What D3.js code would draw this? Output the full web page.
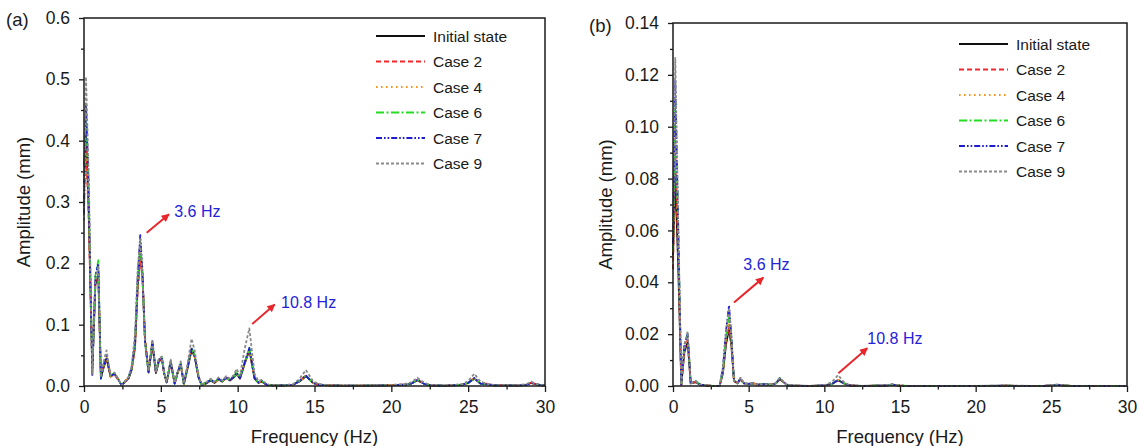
<!DOCTYPE html>
<html>
<head>
<meta charset="utf-8">
<script src="https://cdn.jsdelivr.net/npm/d3@7/dist/d3.min.js"></script>
<style>
body { margin: 0; background: #ffffff; }
svg text { font-family: 'Liberation Sans', Arial, sans-serif; fill: #1a1a1a; }
</style>
</head>
<body>
<div class="spectrum-wrapper"></div>
<script>
// legend names, one per series
const seriesNames = ['Initial state', 'Case 2', 'Case 4', 'Case 6', 'Case 7', 'Case 9'];

const xTicks = [0, 5, 10, 15, 20, 25, 30];
const yTicksA = [0, 0.1, 0.2, 0.3, 0.4, 0.5, 0.6];
const yTicksB = [0, 0.02, 0.04, 0.06, 0.08, 0.10, 0.12, 0.14];

// (a) frequency grid, Hz
const freqA = [
  0, 0.13, 0.3, 0.54, 0.74, 0.93, 1.1, 1.28, 1.47, 1.72,
  1.98, 2.2, 2.45, 2.7, 2.9, 3.1, 3.32, 3.49, 3.66, 3.8,
  3.97, 4.2, 4.45, 4.68, 4.87, 5.07, 5.22, 5.38, 5.64, 5.9,
  6.08, 6.29, 6.5, 6.75, 7.0, 7.2, 7.45, 7.65, 7.95, 8.25,
  8.5, 8.75, 9.0, 9.25, 9.5, 9.75, 9.93, 10.15, 10.45, 10.76,
  11.1, 11.35, 11.56, 11.9, 12.3, 13.0, 13.6, 14.0, 14.44, 14.9,
  15.3, 16.0, 17.5, 19.5, 20.8, 21.3, 21.7, 22.1, 22.6, 23.5,
  24.6, 25.0, 25.4, 25.8, 26.2, 26.7, 27.6, 28.4, 28.8, 29.1,
  29.4, 29.8, 30
];

// (a) amplitudes, mm
const initialA = [
  0.36, 0.41, 0.29, 0.025, 0.165, 0.18, 0.014, 0.03, 0.045, 0.016,
  0.02, 0.012, 0.001, 0.008, 0.012, 0.026, 0.065, 0.16, 0.215, 0.18,
  0.075, 0.022, 0.068, 0.021, 0.04, 0.044, 0.02, 0.006, 0.038, 0.004,
  0.02, 0.036, 0.003, 0.03, 0.058, 0.048, 0.014, 0.002, 0.004, 0.009,
  0.005, 0.011, 0.007, 0.013, 0.009, 0.014, 0.02, 0.012, 0.036, 0.058,
  0.012, 0.005, 0.007, 0.002, 0.001, 0.001, 0.002, 0.007, 0.016, 0.005,
  0.002, 0.001, 0.0005, 0.001, 0.002, 0.004, 0.009, 0.004, 0.001, 0.0005,
  0.002, 0.005, 0.012, 0.004, 0.003, 0.001, 0.001, 0.001, 0.002, 0.005,
  0.003, 0.001, 0.001
];
const case2A = [
  0.33, 0.39, 0.28, 0.03, 0.17, 0.185, 0.015, 0.032, 0.047, 0.015,
  0.019, 0.011, 0.001, 0.007, 0.013, 0.027, 0.062, 0.155, 0.205, 0.185,
  0.08, 0.024, 0.07, 0.022, 0.041, 0.045, 0.019, 0.007, 0.039, 0.005,
  0.021, 0.035, 0.004, 0.031, 0.06, 0.05, 0.015, 0.003, 0.005, 0.01,
  0.006, 0.012, 0.008, 0.014, 0.01, 0.015, 0.021, 0.013, 0.037, 0.06,
  0.013, 0.006, 0.008, 0.002, 0.001, 0.001, 0.002, 0.008, 0.017, 0.005,
  0.002, 0.001, 0.0005, 0.001, 0.002, 0.004, 0.01, 0.004, 0.001, 0.0005,
  0.002, 0.005, 0.013, 0.004, 0.004, 0.001, 0.001, 0.001, 0.002, 0.005,
  0.003, 0.001, 0.001
];
const case4A = [
  0.34, 0.42, 0.3, 0.024, 0.175, 0.19, 0.013, 0.033, 0.048, 0.016,
  0.02, 0.012, 0.001, 0.008, 0.013, 0.028, 0.068, 0.165, 0.23, 0.182,
  0.074, 0.023, 0.071, 0.022, 0.042, 0.045, 0.02, 0.006, 0.04, 0.004,
  0.02, 0.036, 0.003, 0.031, 0.06, 0.049, 0.014, 0.002, 0.004, 0.01,
  0.005, 0.011, 0.007, 0.013, 0.01, 0.015, 0.021, 0.013, 0.037, 0.06,
  0.013, 0.006, 0.008, 0.002, 0.001, 0.001, 0.002, 0.007, 0.016, 0.005,
  0.002, 0.001, 0.0005, 0.001, 0.002, 0.004, 0.009, 0.004, 0.001, 0.0005,
  0.002, 0.005, 0.012, 0.004, 0.003, 0.001, 0.001, 0.001, 0.002, 0.005,
  0.003, 0.001, 0.001
];
const case6A = [
  0.3, 0.45, 0.32, 0.02, 0.18, 0.205, 0.012, 0.035, 0.05, 0.017,
  0.021, 0.012, 0.001, 0.008, 0.014, 0.029, 0.07, 0.17, 0.235, 0.185,
  0.073, 0.023, 0.072, 0.023, 0.043, 0.046, 0.021, 0.006, 0.041, 0.004,
  0.021, 0.037, 0.003, 0.032, 0.062, 0.05, 0.015, 0.002, 0.005, 0.01,
  0.006, 0.012, 0.008, 0.014, 0.01, 0.015, 0.022, 0.013, 0.038, 0.062,
  0.013, 0.006, 0.008, 0.002, 0.001, 0.001, 0.002, 0.008, 0.017, 0.005,
  0.002, 0.001, 0.0005, 0.001, 0.002, 0.004, 0.01, 0.004, 0.001, 0.0005,
  0.002, 0.005, 0.013, 0.004, 0.003, 0.001, 0.001, 0.001, 0.002, 0.005,
  0.003, 0.001, 0.001
];
const case7A = [
  0.28, 0.46, 0.33, 0.018, 0.178, 0.2, 0.012, 0.034, 0.049, 0.016,
  0.02, 0.012, 0.001, 0.008, 0.014, 0.03, 0.072, 0.175, 0.246, 0.19,
  0.072, 0.023, 0.073, 0.022, 0.043, 0.046, 0.02, 0.006, 0.041, 0.004,
  0.021, 0.037, 0.003, 0.032, 0.061, 0.05, 0.015, 0.002, 0.005, 0.01,
  0.006, 0.012, 0.008, 0.014, 0.01, 0.015, 0.022, 0.013, 0.038, 0.062,
  0.013, 0.006, 0.008, 0.002, 0.001, 0.001, 0.002, 0.008, 0.017, 0.005,
  0.002, 0.001, 0.0005, 0.001, 0.002, 0.004, 0.01, 0.004, 0.001, 0.0005,
  0.002, 0.005, 0.013, 0.004, 0.003, 0.001, 0.001, 0.001, 0.002, 0.005,
  0.003, 0.001, 0.001
];
const case9A = [
  0.27, 0.504, 0.35, 0.02, 0.17, 0.195, 0.014, 0.04, 0.058, 0.018,
  0.022, 0.013, 0.001, 0.009, 0.015, 0.032, 0.085, 0.19, 0.24, 0.18,
  0.07, 0.025, 0.075, 0.024, 0.045, 0.048, 0.022, 0.007, 0.043, 0.005,
  0.022, 0.04, 0.004, 0.038, 0.077, 0.058, 0.017, 0.003, 0.006, 0.012,
  0.007, 0.014, 0.009, 0.016, 0.012, 0.018, 0.028, 0.017, 0.06, 0.094,
  0.02, 0.008, 0.01, 0.003, 0.001, 0.001, 0.003, 0.011, 0.026, 0.008,
  0.003, 0.001, 0.0005, 0.001, 0.003, 0.006, 0.0135, 0.006, 0.001, 0.0005,
  0.003, 0.008, 0.02, 0.007, 0.004, 0.001, 0.001, 0.002, 0.003, 0.007,
  0.004, 0.001, 0.001
];

// (b) frequency grid, Hz
const freqB = [
  0, 0.15, 0.35, 0.55, 0.75, 0.97, 1.17, 1.5, 1.8, 2.2,
  2.6, 3.08, 3.3, 3.5, 3.7, 3.85, 4.03, 4.25, 4.46, 4.7,
  5.0, 5.3, 5.6, 6.0, 6.5, 6.8, 7.05, 7.3, 7.6, 8.2,
  9.0, 10.0, 10.5, 10.9, 11.3, 11.7, 12.5, 14.0, 14.5, 15.0,
  17.0, 20.0, 22.0, 24.5, 25.4, 26.3, 28.0, 30.0
];

// (b) amplitudes, mm
const initialB = [
  0.05, 0.081, 0.045, 0.0005, 0.013, 0.017, 0.001, 0.0015, 0.0005, 0.0002,
  0, 0, 0.005, 0.016, 0.022, 0.016, 0.002, 0.001, 0.0025, 0.001,
  0.0008, 0.001, 0.0005, 0.0007, 0.0005, 0.001, 0.0025, 0.0015, 0.0002, 0.0001,
  0, 0.0002, 0.0008, 0.0022, 0.001, 0.0002, 0, 0.0002, 0.0005, 0.0001,
  0, 0, 0.0001, 0, 0.0004, 0, 0, 0
];
const case2B = [
  0.045, 0.09, 0.05, 0.0005, 0.014, 0.018, 0.001, 0.0015, 0.0005, 0.0002,
  0, 0, 0.005, 0.017, 0.023, 0.017, 0.002, 0.001, 0.0025, 0.001,
  0.0008, 0.001, 0.0005, 0.0007, 0.0005, 0.001, 0.0027, 0.0015, 0.0002, 0.0001,
  0, 0.0002, 0.0008, 0.0023, 0.001, 0.0002, 0, 0.0002, 0.0005, 0.0001,
  0, 0, 0.0001, 0, 0.0004, 0, 0, 0
];
const case4B = [
  0.048, 0.1, 0.055, 0.0005, 0.015, 0.019, 0.001, 0.0018, 0.0005, 0.0002,
  0, 0, 0.006, 0.018, 0.025, 0.018, 0.002, 0.001, 0.0028, 0.001,
  0.0008, 0.001, 0.0005, 0.0007, 0.0005, 0.001, 0.0028, 0.0015, 0.0002, 0.0001,
  0, 0.0002, 0.0008, 0.0024, 0.001, 0.0002, 0, 0.0002, 0.0005, 0.0001,
  0, 0, 0.0001, 0, 0.0004, 0, 0, 0
];
const case6B = [
  0.052, 0.11, 0.058, 0.0005, 0.016, 0.02, 0.001, 0.002, 0.0005, 0.0002,
  0, 0, 0.006, 0.019, 0.027, 0.019, 0.002, 0.001, 0.003, 0.001,
  0.0008, 0.001, 0.0005, 0.0007, 0.0005, 0.001, 0.003, 0.0015, 0.0002, 0.0001,
  0, 0.0002, 0.0008, 0.0024, 0.001, 0.0002, 0, 0.0002, 0.0005, 0.0001,
  0, 0, 0.0001, 0, 0.0004, 0, 0, 0
];
const case7B = [
  0.055, 0.118, 0.06, 0.0005, 0.016, 0.02, 0.001, 0.0018, 0.0005, 0.0002,
  0, 0, 0.007, 0.021, 0.031, 0.02, 0.002, 0.001, 0.003, 0.001,
  0.0008, 0.001, 0.0005, 0.0007, 0.0005, 0.001, 0.003, 0.0015, 0.0002, 0.0001,
  0, 0.0002, 0.0008, 0.0023, 0.001, 0.0002, 0, 0.0002, 0.0005, 0.0001,
  0, 0, 0.0001, 0, 0.0004, 0, 0, 0
];
const case9B = [
  0.058, 0.1265, 0.062, 0.0005, 0.016, 0.021, 0.001, 0.0018, 0.0005, 0.0002,
  0, 0, 0.007, 0.021, 0.030, 0.02, 0.002, 0.001, 0.0032, 0.001,
  0.0008, 0.001, 0.0005, 0.0007, 0.0005, 0.0012, 0.0032, 0.0017, 0.0002, 0.0001,
  0, 0.0003, 0.0015, 0.0042, 0.0015, 0.0002, 0, 0.0003, 0.0007, 0.0001,
  0, 0, 0.0002, 0, 0.0006, 0, 0, 0
];

// styles, same order as seriesNames
const lineColors = ['#111111', '#f2262b', '#f7941d', '#22dd22', '#1d1dd0', '#8a8a8a'];
const lineDashes = [null, '5,3', '1.6,3.4', '8,2.5,2,2.5', '6,2,1.6,2,1.6,2', '3,2'];

const width = 1140;
const height = 446;

const svg = d3.select('.spectrum-wrapper').append('svg')
.attr('width', width)
.attr('height', height)

const panels = [
  {
    tag: '(a)', tagX: 6, tagY: 19,
    left: 84, right: 545, top: 18, bottom: 386,
    yMax: 0.6, yTicks: yTicksA, yMinorStep: 0.05, yFormat: d3.format('.1f'),
    titleX: 23,
    freq: freqA,
    series: [initialA, case2A, case4A, case6A, case7A, case9A],
    legendX: 376, legendY: 36,
    notes: [
      {label: '3.6 Hz', from: [4.08, 0.25], to: [5.53, 0.28], at: [5.87, 0.284]},
      {label: '10.8 Hz', from: [10.95, 0.101], to: [12.41, 0.133], at: [12.82, 0.136]}
    ]
  },
  {
    tag: '(b)', tagX: 589, tagY: 25,
    left: 673, right: 1127, top: 23, bottom: 386,
    yMax: 0.14, yTicks: yTicksB, yMinorStep: 0.01, yFormat: d3.format('.2f'),
    titleX: 605,
    freq: freqB,
    series: [initialB, case2B, case4B, case6B, case7B, case9B],
    legendX: 959, legendY: 44,
    notes: [
      {label: '3.6 Hz', from: [4.03, 0.0322], to: [5.97, 0.0418], at: [4.65, 0.0467]},
      {label: '10.8 Hz', from: [10.93, 0.0049], to: [12.84, 0.0146], at: [12.84, 0.0184]}
    ]
  }
];

// red arrow head
svg.append('defs').append('marker')
.attr('id', 'arrow-head')
.attr('viewBox', '0 0 10 10')
.attr('refX', 9)
.attr('refY', 5)
.attr('markerUnits', 'userSpaceOnUse')
.attr('markerWidth', 9)
.attr('markerHeight', 8)
.attr('orient', 'auto')
.append('path')
.attr('d', 'M0,0 L10,5 L0,10 Z')
.attr('fill', '#e8262b')

const styleAxis = (g) => {
	g.select('.domain').remove()
	g.selectAll('.tick line').attr('stroke', '#1a1a1a').attr('stroke-width', 1.3)
	g.selectAll('.tick text').attr('font-size', 17.5).attr('fill', '#1a1a1a')
}

const drawPanel = (p) => {

	let x = d3.scaleLinear().domain([0, 30]).range([p.left, p.right])
	let y = d3.scaleLinear().domain([0, p.yMax]).range([p.bottom, p.top])

	let g = svg.append('g')

	let xMinor = d3.range(2.5, 30, 5)
	let yMinor = d3.range(p.yMinorStep, p.yMax, p.yMinorStep * 2)

	g.append('g')
	.attr('transform', 'translate(0,' + p.bottom + ')')
	.call(d3.axisBottom(x).tickValues(xMinor).tickSize(3.5).tickFormat(''))
	.call(styleAxis)

	g.append('g')
	.attr('transform', 'translate(0,' + p.bottom + ')')
	.call(d3.axisBottom(x).tickValues(xTicks).tickSize(6).tickPadding(9))
	.call(styleAxis)

	g.append('g')
	.attr('transform', 'translate(' + p.left + ',0)')
	.call(d3.axisLeft(y).tickValues(yMinor).tickSize(3).tickFormat(''))
	.call(styleAxis)

	g.append('g')
	.attr('transform', 'translate(' + p.left + ',0)')
	.call(d3.axisLeft(y).tickValues(p.yTicks).tickSize(5).tickPadding(9).tickFormat(p.yFormat))
	.call(styleAxis)

	let line = d3.line()
	.x((d, i) => x(p.freq[i]))
	.y(d => y(d))

	g.append('g')
	.selectAll('path')
	.data(p.series)
	.enter()
	.append('path')
	.attr('d', d => line(d))
	.attr('fill', 'none')
	.attr('stroke', (d, i) => lineColors[i])
	.attr('stroke-width', 1.8)
	.attr('stroke-dasharray', (d, i) => lineDashes[i])
	.attr('stroke-linejoin', 'round')

	// frame
	g.append('rect')
	.attr('x', p.left)
	.attr('y', p.top)
	.attr('width', p.right - p.left)
	.attr('height', p.bottom - p.top)
	.attr('fill', 'none')
	.attr('stroke', '#1a1a1a')
	.attr('stroke-width', 1.5)

	g.append('text')
	.attr('x', (p.left + p.right) / 2)
	.attr('y', 436)
	.attr('text-anchor', 'middle')
	.attr('dominant-baseline', 'central')
	.attr('font-size', 18.5)
	.text('Frequency (Hz)')

	g.append('text')
	.attr('transform', 'translate(' + p.titleX + ',' + (p.top + p.bottom) / 2 + ') rotate(-90)')
	.attr('text-anchor', 'middle')
	.attr('dominant-baseline', 'central')
	.attr('font-size', 18.5)
	.text('Amplitude (mm)')

	g.append('text')
	.attr('x', p.tagX)
	.attr('y', p.tagY)
	.attr('dominant-baseline', 'central')
	.attr('font-size', 18.5)
	.text(p.tag)

	// legend
	let legend = g.append('g')
	.selectAll('g')
	.data(seriesNames)
	.enter()
	.append('g')
	.attr('transform', (d, i) => 'translate(' + p.legendX + ',' + (p.legendY + i * 25.5) + ')')

	legend.append('line')
	.attr('x1', 0)
	.attr('x2', 49)
	.attr('stroke', (d, i) => lineColors[i])
	.attr('stroke-width', 1.9)
	.attr('stroke-dasharray', (d, i) => lineDashes[i])

	legend.append('text')
	.attr('x', 57)
	.attr('dominant-baseline', 'central')
	.attr('font-size', 15.5)
	.text(d => d)

	// peak notes
	p.notes.map(n => {

		g.append('line')
		.attr('x1', x(n.from[0]))
		.attr('y1', y(n.from[1]))
		.attr('x2', x(n.to[0]))
		.attr('y2', y(n.to[1]))
		.attr('stroke', '#e8262b')
		.attr('stroke-width', 2)
		.attr('marker-end', 'url(#arrow-head)')

		g.append('text')
		.attr('x', x(n.at[0]))
		.attr('y', y(n.at[1]))
		.attr('dominant-baseline', 'central')
		.attr('font-size', 16)
		.style('fill', '#2323d8')
		.text(n.label)
	})
}

panels.map(p => drawPanel(p))
</script>
</body>
</html>
